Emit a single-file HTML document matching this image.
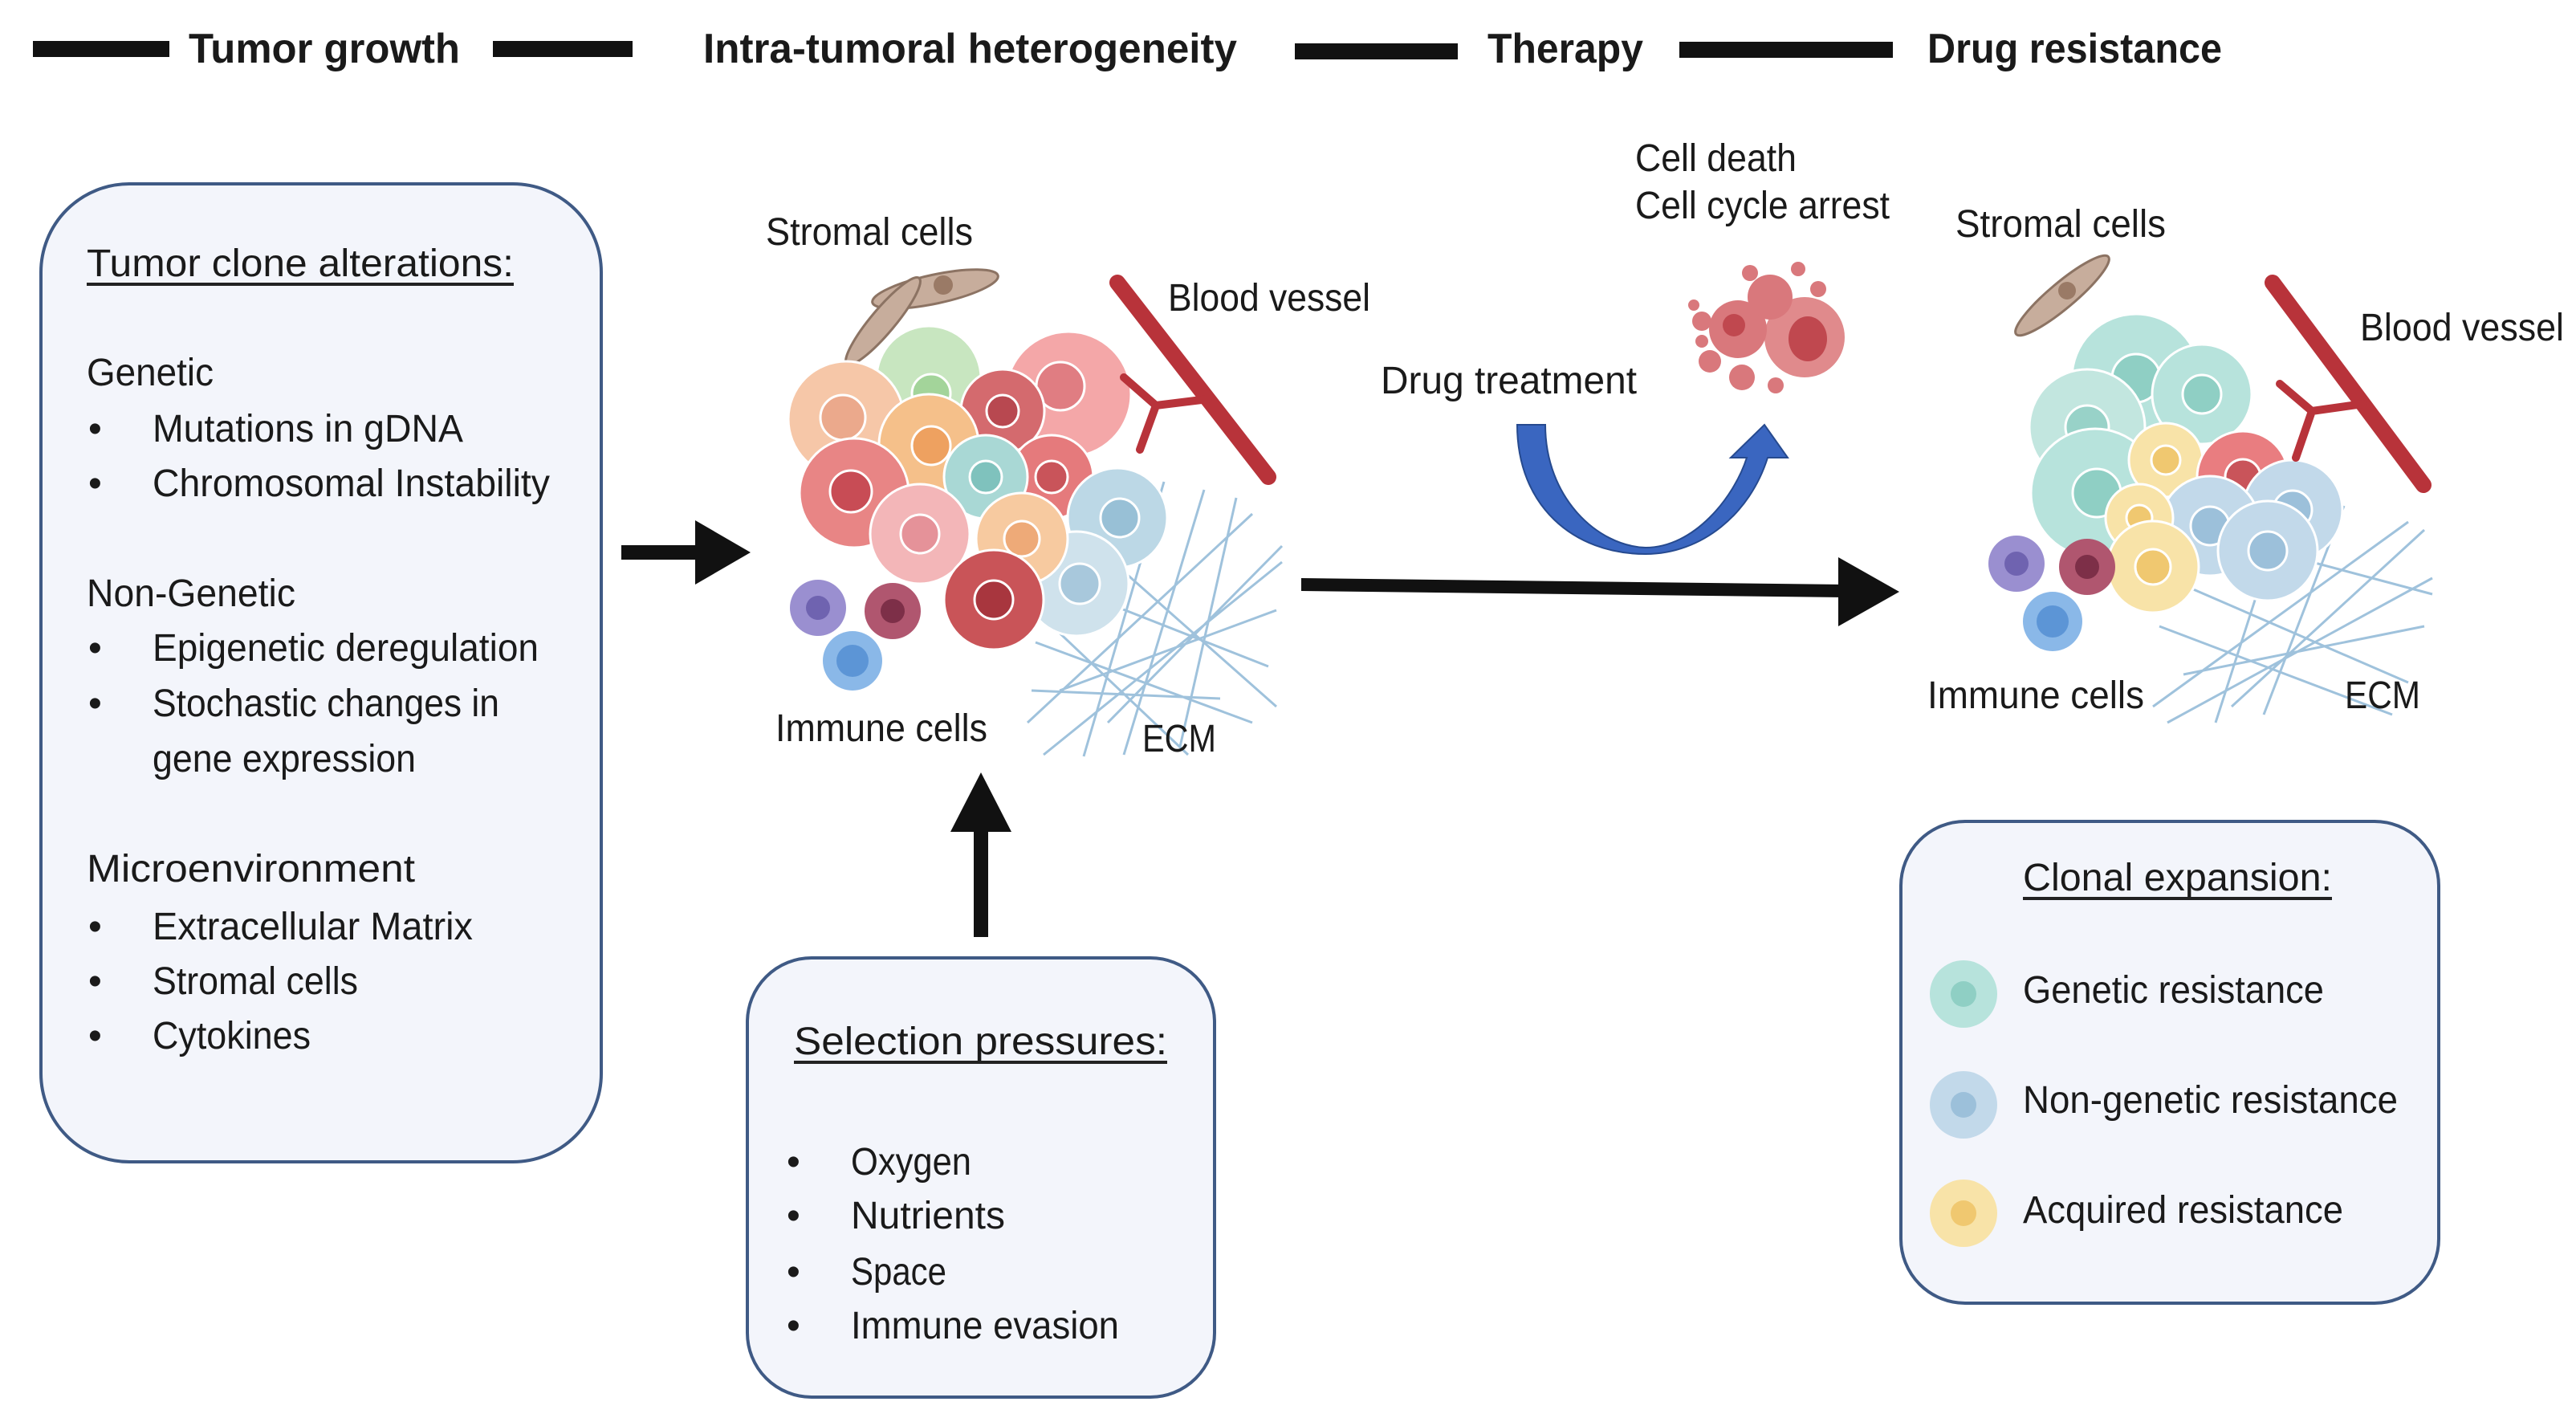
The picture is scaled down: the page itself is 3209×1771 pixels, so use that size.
<!DOCTYPE html>
<html><head><meta charset="utf-8"><style>html,body{margin:0;padding:0;background:#fff}svg{display:block}text{font-family:"Liberation Sans",sans-serif;fill:#1a1a1a}</style></head><body>
<svg width="3209" height="1771" viewBox="0 0 3209 1771" xmlns="http://www.w3.org/2000/svg">
<!-- header -->
<g fill="#111">
<rect x="41" y="51" width="170" height="20"/>
<rect x="614" y="51" width="174" height="20"/>
<rect x="1613" y="54" width="203" height="20"/>
<rect x="2092" y="52" width="266" height="20"/>
</g>
<g font-weight="bold" font-size="52">
<text x="235" y="78" textLength="338" lengthAdjust="spacingAndGlyphs">Tumor growth</text>
<text x="876" y="78" textLength="665" lengthAdjust="spacingAndGlyphs">Intra-tumoral heterogeneity</text>
<text x="1853" y="78" textLength="194" lengthAdjust="spacingAndGlyphs">Therapy</text>
<text x="2401" y="78" textLength="367" lengthAdjust="spacingAndGlyphs">Drug resistance</text>
</g>

<!-- left box -->
<rect x="51" y="229" width="698" height="1218" rx="110" fill="#f3f5fb" stroke="#3f5a85" stroke-width="4"/>
<g font-size="48">
<text x="108" y="344" textLength="532" lengthAdjust="spacingAndGlyphs">Tumor clone alterations:</text>
<rect x="108" y="352" width="532" height="4" fill="#222"/>
<text x="108" y="480" textLength="158" lengthAdjust="spacingAndGlyphs">Genetic</text>
<text x="110" y="550">•</text><text x="190" y="550" textLength="387" lengthAdjust="spacingAndGlyphs">Mutations in gDNA</text>
<text x="110" y="618">•</text><text x="190" y="618" textLength="495" lengthAdjust="spacingAndGlyphs">Chromosomal Instability</text>
<text x="108" y="755" textLength="260" lengthAdjust="spacingAndGlyphs">Non-Genetic</text>
<text x="110" y="823">•</text><text x="190" y="823" textLength="481" lengthAdjust="spacingAndGlyphs">Epigenetic deregulation</text>
<text x="110" y="892">•</text><text x="190" y="892" textLength="432" lengthAdjust="spacingAndGlyphs">Stochastic changes in</text>
<text x="190" y="961" textLength="328" lengthAdjust="spacingAndGlyphs">gene expression</text>
<text x="108" y="1098" textLength="409" lengthAdjust="spacingAndGlyphs">Microenvironment</text>
<text x="110" y="1170">•</text><text x="190" y="1170" textLength="399" lengthAdjust="spacingAndGlyphs">Extracellular Matrix</text>
<text x="110" y="1238">•</text><text x="190" y="1238" textLength="256" lengthAdjust="spacingAndGlyphs">Stromal cells</text>
<text x="110" y="1306">•</text><text x="190" y="1306" textLength="197" lengthAdjust="spacingAndGlyphs">Cytokines</text>
</g>

<!-- arrows -->
<rect x="774" y="679" width="100" height="18" fill="#111"/>
<polygon points="866,648 935,688 866,728" fill="#111"/>
<rect x="1213" y="1030" width="18" height="137" fill="#111"/>
<polygon points="1184,1036 1222,962 1260,1036" fill="#111"/>
<polygon points="1621,720 2300,728 2300,744 1621,736" fill="#111"/>
<polygon points="2290,694 2366,737 2290,780" fill="#111"/>

<!-- U arrow -->
<path d="M1890,529 L1925,529 C1925,620 1990,680 2050,682 C2110,682 2160,620 2176,570 L2156,570 L2198,529 L2227,570 L2202,570 C2180,640 2120,690 2050,690 C1960,690 1890,630 1890,529 Z" fill="#3a66c0" stroke="#264a8f" stroke-width="2"/>

<!-- dead cell -->
<g fill="#d9787c">
<circle cx="2248" cy="420" r="50" fill="#e08a8c"/>
<ellipse cx="2252" cy="422" rx="24" ry="28" fill="#c0484f"/>
<circle cx="2165" cy="410" r="36"/>
<circle cx="2160" cy="405" r="14" fill="#c0484f"/>
<circle cx="2205" cy="370" r="28"/>
<circle cx="2120" cy="400" r="12"/><circle cx="2130" cy="450" r="14"/><circle cx="2170" cy="470" r="16"/><circle cx="2212" cy="480" r="10"/>
<circle cx="2180" cy="340" r="10"/><circle cx="2240" cy="335" r="9"/><circle cx="2110" cy="380" r="7"/><circle cx="2120" cy="425" r="8"/><circle cx="2265" cy="360" r="10"/>
</g>

<!-- middle cluster -->
<g stroke="#9fc2dc" stroke-width="3" fill="none">
<path d="M1280,900 L1560,640 M1300,940 L1597,700 M1320,860 L1590,760 M1290,800 L1560,900 M1350,942 L1450,600 M1400,940 L1500,610 M1470,930 L1540,620 M1300,720 L1580,830 M1330,650 L1590,880 M1285,860 L1520,870 M1380,900 L1597,680 M1290,760 L1480,940"/>
</g>
<ellipse cx="1165" cy="360" rx="80" ry="18" transform="rotate(-12 1165 360)" fill="#c7ad9c" stroke="#8c7363" stroke-width="3"/>
<ellipse cx="1100" cy="400" rx="70" ry="15" transform="rotate(-50 1100 400)" fill="#c7ad9c" stroke="#8c7363" stroke-width="3"/>
<circle cx="1175" cy="355" r="12" fill="#9a7a66"/>
<g stroke="#ffffff" stroke-width="3">
<circle cx="1331" cy="491" r="78" fill="#f4a7a8"/><circle cx="1321" cy="481" r="30" fill="#e07d82"/>
<circle cx="1157" cy="471" r="65" fill="#c8e6c0"/><circle cx="1160" cy="490" r="24" fill="#a3d49a"/>
<circle cx="1249" cy="512" r="52" fill="#d46a6e"/><circle cx="1249" cy="512" r="20" fill="#b84850"/>
<circle cx="1054" cy="522" r="72" fill="#f6c7a8"/><circle cx="1050" cy="520" r="28" fill="#eba98c"/>
<circle cx="1157" cy="553" r="62" fill="#f5c08a"/><circle cx="1160" cy="555" r="24" fill="#eea160"/>
<circle cx="1310" cy="594" r="52" fill="#e57a7c"/><circle cx="1310" cy="594" r="20" fill="#c9545a"/>
<circle cx="1228" cy="594" r="52" fill="#a9d8d5"/><circle cx="1228" cy="594" r="20" fill="#7fc2bd"/>
<circle cx="1064" cy="614" r="68" fill="#e88585"/><circle cx="1060" cy="612" r="26" fill="#c84c55"/>
<circle cx="1392" cy="645" r="62" fill="#bcd8e6"/><circle cx="1395" cy="645" r="24" fill="#98c0d6"/>
<circle cx="1146" cy="665" r="62" fill="#f3b6b8"/><circle cx="1146" cy="665" r="24" fill="#e59299"/>
<circle cx="1341" cy="727" r="65" fill="#cfe2ec"/><circle cx="1345" cy="727" r="25" fill="#a8c8dc"/>
<circle cx="1273" cy="671" r="57" fill="#f7caa0"/><circle cx="1273" cy="671" r="22" fill="#eeaa78"/>
<circle cx="1238" cy="747" r="62" fill="#c95458"/><circle cx="1238" cy="747" r="24" fill="#a8363e"/>
</g>
<g>
<circle cx="1019" cy="757" r="35" fill="#9a8fd0"/><circle cx="1019" cy="757" r="15" fill="#6f63b0"/>
<circle cx="1112" cy="761" r="35" fill="#b0566f"/><circle cx="1112" cy="761" r="15" fill="#7d2f48"/>
<circle cx="1062" cy="823" r="37" fill="#8ab8e8"/><circle cx="1062" cy="823" r="20" fill="#5c95d6"/>
</g>
<g stroke="#b8333a" stroke-linecap="round" fill="none">
<path d="M1392,352 L1580,594" stroke-width="20"/>
<path d="M1505,497 L1440,505 L1400,470 M1440,505 L1420,560" stroke-width="10"/>
</g>
<g font-size="48">
<text x="954" y="305" textLength="258" lengthAdjust="spacingAndGlyphs">Stromal cells</text>
<text x="1455" y="387" textLength="252" lengthAdjust="spacingAndGlyphs">Blood vessel</text>
<text x="966" y="923" textLength="264" lengthAdjust="spacingAndGlyphs">Immune cells</text>
<text x="1423" y="936" textLength="92" lengthAdjust="spacingAndGlyphs">ECM</text>
<text x="1720" y="490" textLength="319" lengthAdjust="spacingAndGlyphs">Drug treatment</text>
<text x="2037" y="213" textLength="201" lengthAdjust="spacingAndGlyphs">Cell death</text>
<text x="2037" y="272" textLength="317" lengthAdjust="spacingAndGlyphs">Cell cycle arrest</text>
</g>

<!-- selection box -->
<rect x="931" y="1193" width="582" height="547" rx="80" fill="#f3f5fb" stroke="#3f5a85" stroke-width="4"/>
<g font-size="48">
<text x="989" y="1313" textLength="465" lengthAdjust="spacingAndGlyphs">Selection pressures:</text>
<rect x="989" y="1321" width="465" height="4" fill="#222"/>
<text x="980" y="1463">•</text><text x="1060" y="1463" textLength="150" lengthAdjust="spacingAndGlyphs">Oxygen</text>
<text x="980" y="1530">•</text><text x="1060" y="1530" textLength="192" lengthAdjust="spacingAndGlyphs">Nutrients</text>
<text x="980" y="1600">•</text><text x="1060" y="1600" textLength="119" lengthAdjust="spacingAndGlyphs">Space</text>
<text x="980" y="1667">•</text><text x="1060" y="1667" textLength="334" lengthAdjust="spacingAndGlyphs">Immune evasion</text>
</g>

<!-- right cluster -->
<g stroke="#9fc2dc" stroke-width="3" fill="none">
<path d="M2682,880 L3000,650 M2700,900 L3030,720 M2720,840 L3020,780 M2690,780 L2980,890 M2760,900 L2850,620 M2820,890 L2920,630 M2700,720 L3000,850 M2730,660 L3030,740 M2780,880 L3020,660"/>
</g>
<ellipse cx="2569" cy="368" rx="75" ry="16" transform="rotate(-40 2569 368)" fill="#c7ad9c" stroke="#8c7363" stroke-width="3"/>
<circle cx="2575" cy="362" r="11" fill="#9a7a66"/>
<g stroke="#ffffff" stroke-width="3">
<circle cx="2661" cy="471" r="80" fill="#b7e3dc"/><circle cx="2661" cy="471" r="30" fill="#8fcfc4"/>
<circle cx="2743" cy="491" r="62" fill="#b7e3dc"/><circle cx="2743" cy="491" r="24" fill="#8fcfc4"/>
<circle cx="2600" cy="532" r="72" fill="#c2e6df"/><circle cx="2600" cy="532" r="27" fill="#98d2c8"/>
<circle cx="2610" cy="614" r="80" fill="#b7e3dc"/><circle cx="2612" cy="614" r="30" fill="#8fcfc4"/>
<circle cx="2698" cy="573" r="46" fill="#f8e3a8"/><circle cx="2698" cy="573" r="18" fill="#f0c870"/>
<circle cx="2794" cy="594" r="57" fill="#e97d80"/><circle cx="2794" cy="594" r="22" fill="#c9545a"/>
<circle cx="2856" cy="635" r="62" fill="#c2d9ea"/><circle cx="2856" cy="635" r="24" fill="#9cc0da"/>
<circle cx="2753" cy="655" r="62" fill="#c2d9ea"/><circle cx="2753" cy="655" r="24" fill="#9cc0da"/>
<circle cx="2665" cy="645" r="42" fill="#f8e3a8"/><circle cx="2665" cy="645" r="16" fill="#f0c870"/>
<circle cx="2825" cy="686" r="62" fill="#c2d9ea"/><circle cx="2825" cy="686" r="24" fill="#9cc0da"/>
<circle cx="2682" cy="706" r="57" fill="#f8e3a8"/><circle cx="2682" cy="706" r="22" fill="#f0c870"/>
</g>
<g>
<circle cx="2512" cy="702" r="35" fill="#9a8fd0"/><circle cx="2512" cy="702" r="15" fill="#6f63b0"/>
<circle cx="2600" cy="706" r="35" fill="#b0566f"/><circle cx="2600" cy="706" r="15" fill="#7d2f48"/>
<circle cx="2557" cy="774" r="37" fill="#8ab8e8"/><circle cx="2557" cy="774" r="20" fill="#5c95d6"/>
</g>
<g stroke="#b8333a" stroke-linecap="round" fill="none">
<path d="M2831,352 L3019,604" stroke-width="20"/>
<path d="M2944,503 L2880,512 L2840,478 M2880,512 L2860,570" stroke-width="10"/>
</g>
<g font-size="48">
<text x="2436" y="295" textLength="262" lengthAdjust="spacingAndGlyphs">Stromal cells</text>
<text x="2940" y="424" textLength="254" lengthAdjust="spacingAndGlyphs">Blood vessel</text>
<text x="2401" y="882" textLength="270" lengthAdjust="spacingAndGlyphs">Immune cells</text>
<text x="2921" y="882" textLength="94" lengthAdjust="spacingAndGlyphs">ECM</text>
</g>

<!-- clonal box -->
<rect x="2368" y="1023" width="670" height="600" rx="80" fill="#f3f5fb" stroke="#3f5a85" stroke-width="4"/>
<g font-size="48">
<text x="2520" y="1109" textLength="385" lengthAdjust="spacingAndGlyphs">Clonal expansion:</text>
<rect x="2520" y="1117" width="385" height="4" fill="#222"/>
<circle cx="2446" cy="1238" r="42" fill="#b7e3dc"/><circle cx="2446" cy="1238" r="16" fill="#8fcfc4"/>
<text x="2520" y="1249" textLength="375" lengthAdjust="spacingAndGlyphs">Genetic resistance</text>
<circle cx="2446" cy="1376" r="42" fill="#c2d9ea"/><circle cx="2446" cy="1376" r="16" fill="#9cc0da"/>
<text x="2520" y="1386" textLength="467" lengthAdjust="spacingAndGlyphs">Non-genetic resistance</text>
<circle cx="2446" cy="1511" r="42" fill="#f8e3a8"/><circle cx="2446" cy="1511" r="16" fill="#f0c870"/>
<text x="2520" y="1523" textLength="399" lengthAdjust="spacingAndGlyphs">Acquired resistance</text>
</g>
</svg>
</body></html>
